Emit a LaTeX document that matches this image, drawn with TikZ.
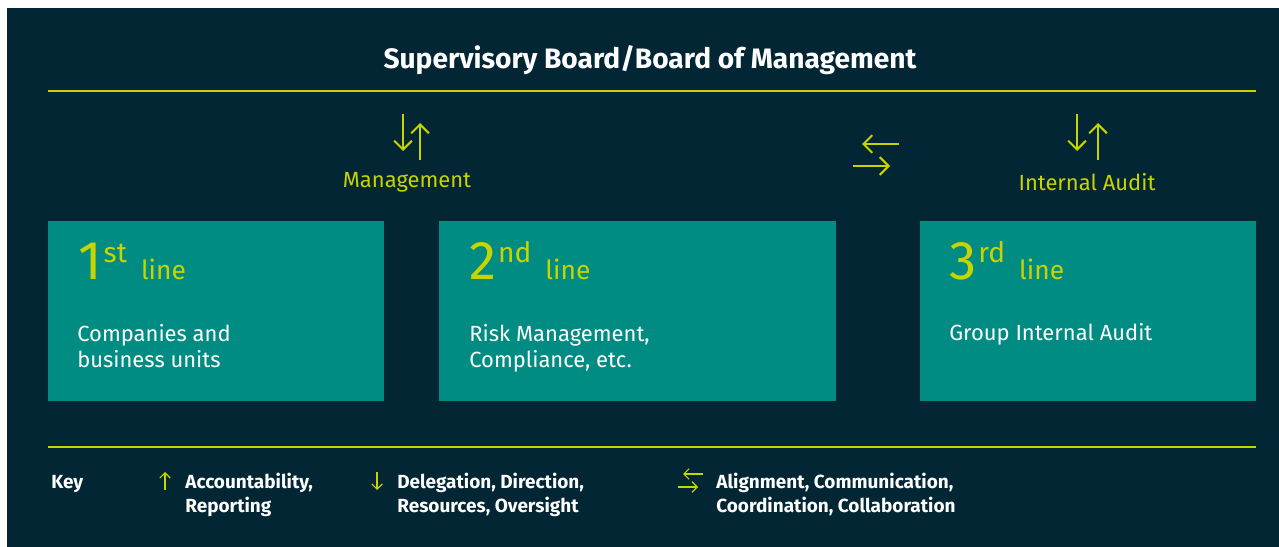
\documentclass[tikz,border=0pt]{standalone}
\usepackage{fontspec}
\setmainfont{Fira Sans}
\usetikzlibrary{arrows.meta}
\definecolor{navy}{RGB}{2,38,51}
\definecolor{tealbox}{RGB}{0,140,130}
\definecolor{lime}{RGB}{200,212,0}
\newcommand{\linehead}[2]{{\fontsize{31pt}{31pt}\selectfont #1}\hspace{1pt}\raisebox{10pt}{\fontsize{16pt}{16pt}\selectfont #2}\hspace{8pt}{\fontsize{15pt}{15pt}\selectfont line}}
\begin{document}
\begin{tikzpicture}[x=0.02cm,y=-0.02cm,
    linebox/.style={fill=tealbox, anchor=north west, minimum height=3.6cm, inner sep=0pt},
    headtext/.style={text=lime, anchor=base west, inner sep=0pt},
    boxtext/.style={text=white, anchor=base west, align=left, inner sep=0pt,
      font=\fontsize{12.5pt}{15.3pt}\selectfont},
    flowlabel/.style={text=lime, font=\fontsize{12.5pt}{14pt}\selectfont},
    keytext/.style={text=white, anchor=base west, align=left, inner sep=0pt,
      font=\bfseries\fontsize{10.8pt}{13.6pt}\selectfont},
    rule/.style={draw=lime, line width=1.1pt},
    arr/.style={draw=lime, line width=1.2pt, -{Straight Barb[length=5pt,width=10pt]}},
    keyarr/.style={draw=lime, line width=0.7pt, -{Straight Barb[length=3pt,width=6pt]}}]
  \useasboundingbox (0,0) rectangle (1279,547);
  \fill[navy] (7,8) rectangle (1279,547);

  % title and rules
  \node[text=white, font=\bfseries\fontsize{16pt}{19pt}\selectfont] (title) at (650,60) {Supervisory Board/Board of Management};
  \coordinate (topl) at (48,91);
  \coordinate (topr) at (1256,91);
  \coordinate (botl) at (48,447);
  \coordinate (botr) at (1256,447);
  \draw[rule] (topl) -- (topr);
  \draw[rule] (botl) -- (botr);

  % the three lines
  \node[linebox, minimum width=6.72cm] (box1) at (48,221) {};
  \node[linebox, minimum width=7.94cm] (box2) at (439,221) {};
  \node[linebox, minimum width=6.72cm] (box3) at (920,221) {};
  \node[headtext] (head1) at (78,280) {\linehead{1}{st}};
  \node[headtext] (head2) at (469,280) {\linehead{2}{nd}};
  \node[headtext] (head3) at (949,280) {\linehead{3}{rd}};
  \node[boxtext] (text1) at (77,368) {Companies and\\business units};
  \node[boxtext] (text2) at (469,368) {Risk Management,\\Compliance, etc.};
  \node[boxtext] (text3) at (949,341) {Group Internal Audit};

  % flows
  \node[flowlabel] (mgmt) at (407,182) {Management};
  \node[flowlabel] (audit) at (1087,182) {Internal Audit};
  \coordinate (m1a) at (403,114);
  \coordinate (m1b) at (403,151);
  \coordinate (m2a) at (420,160);
  \coordinate (m2b) at (420,123);
  \coordinate (a1a) at (1077,114);
  \coordinate (a1b) at (1077,151);
  \coordinate (a2a) at (1098,160);
  \coordinate (a2b) at (1098,123);
  \coordinate (c1a) at (899,144);
  \coordinate (c1b) at (862,144);
  \coordinate (c2a) at (853,166);
  \coordinate (c2b) at (890,166);
  \draw[arr] (m1a) -- (m1b);
  \draw[arr] (m2a) -- (m2b);
  \draw[arr] (a1a) -- (a1b);
  \draw[arr] (a2a) -- (a2b);
  \draw[arr] (c1a) -- (c1b);
  \draw[arr] (c2a) -- (c2b);

  % key
  \node[keytext] (key) at (51,488) {Key};
  \node[keytext] (key1) at (185,512) {Accountability,\\Reporting};
  \node[keytext] (key2) at (397,512) {Delegation, Direction,\\Resources, Oversight};
  \node[keytext] (key3) at (716,512) {Alignment, Communication,\\Coordination, Collaboration};
  \coordinate (k1a) at (165,490);
  \coordinate (k1b) at (165,472);
  \coordinate (k2a) at (377,472);
  \coordinate (k2b) at (377,490);
  \coordinate (k3a) at (703,474);
  \coordinate (k3b) at (683,474);
  \coordinate (k4a) at (678,487);
  \coordinate (k4b) at (698,487);
  \draw[keyarr] (k1a) -- (k1b);
  \draw[keyarr] (k2a) -- (k2b);
  \draw[keyarr] (k3a) -- (k3b);
  \draw[keyarr] (k4a) -- (k4b);
\end{tikzpicture}
\end{document}
